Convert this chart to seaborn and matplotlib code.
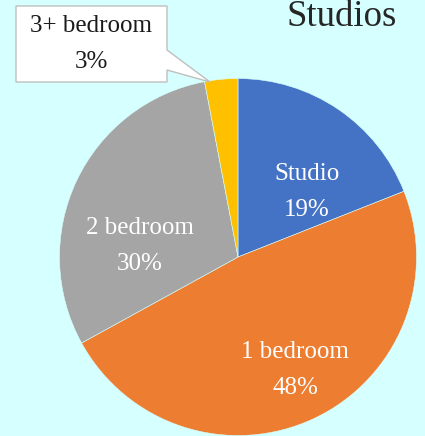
import matplotlib
matplotlib.use("Agg")
import matplotlib.pyplot as plt
import seaborn as sns
from matplotlib.patches import Polygon

categories = ["Studio", "1 bedroom", "2 bedroom", "3+ bedroom"]
shares = [19, 48, 30, 3]
colors = ["#4472C4", "#ED7D31", "#A5A5A5", "#FFC000"]
title = "Studios"

sns.set_theme(style="white")
plt.rcParams['font.family'] = ['Liberation Serif', 'DejaVu Serif']

W, H = 425, 436
bg = "#D6FFFF"
fig = plt.figure(figsize=(W / 100, H / 100), dpi=100, facecolor=bg)
ax = fig.add_axes([0, 0, 1, 1])
ax.set_facecolor(bg)

# pie centre/radius in pixel coords (y measured from bottom)
cx, cy, r = 238, H - 257, 178.5
ax.pie(shares, colors=colors, startangle=90, counterclock=False,
       center=(cx, cy), radius=r, frame=True,
       wedgeprops=dict(linewidth=0.4, edgecolor=bg))
ax.set_xlim(0, W)
ax.set_ylim(0, H)
ax.set_aspect('equal')
ax.axis('off')

# inside labels (pixel positions from top)
label_pos = {"Studio": (307, 192), "1 bedroom": (295, 370), "2 bedroom": (140, 246)}
for cat, val in zip(categories, shares):
    if cat in label_pos:
        x, y = label_pos[cat]
        ax.text(x, H - y, f"{cat}\n{val}%", color="white", fontsize=18,
                ha="center", va="center", linespacing=1.85)

# callout for the small slice
box = [(16, 6), (167, 6), (167, 50), (210, 82), (167, 70), (167, 82), (16, 82)]
ax.add_patch(Polygon([(x, H - y) for x, y in box], closed=True,
                     facecolor="white", edgecolor="#BFBFBF", linewidth=1, zorder=5))
ax.text(91, H - 44, f"{categories[3]}\n{shares[3]}%", color="#1a1a1a", fontsize=18,
        ha="center", va="center", linespacing=1.85, zorder=6)

ax.text(342, H - 26, title, color="#262626", fontsize=26.5, ha="center", va="baseline")

fig.savefig("out.png", dpi=100, facecolor=bg)
